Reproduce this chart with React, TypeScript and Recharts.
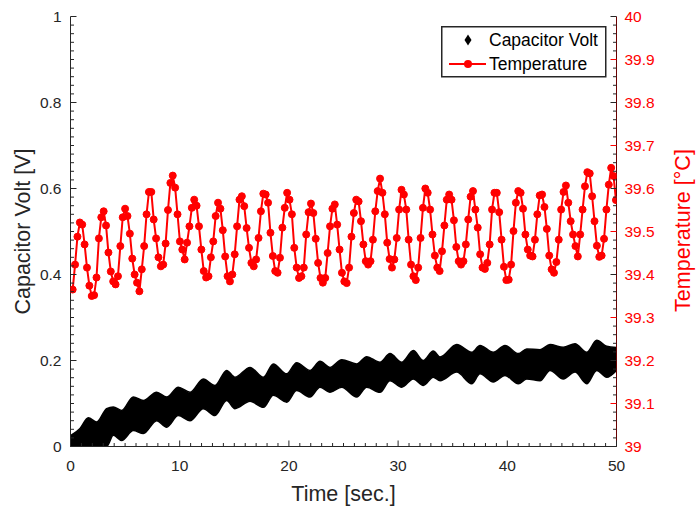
import React from 'react';
import { ComposedChart, Line, Area, XAxis, YAxis, Legend } from 'recharts';

const FONT = '"Liberation Sans", Arial, sans-serif';
const AXIS_COLOR = '#262626';
const RED = '#ff0000';

// Tick values
const TIME_TICKS = Array.from({ length: 51 }, (_, i) => i); // minor every 1 s, major every 10 s
const VOLT_TICKS = Array.from({ length: 51 }, (_, i) => +(i * 0.02).toFixed(2)); // minor 0.02, major 0.2
const TEMP_TICKS = Array.from({ length: 51 }, (_, i) => +(39 + i * 0.02).toFixed(2)); // minor 0.02, major 0.1
const TIME_LABELS = [0, 10, 20, 30, 40, 50];
const VOLT_LABELS = ['0', '0.2', '0.4', '0.6', '0.8', '1'];
const TEMP_LABELS = ['39', '39.1', '39.2', '39.3', '39.4', '39.5', '39.6', '39.7', '39.8', '39.9', '40'];

// Temperature samples (°C), sampled uniformly from TEMP_START with TEMP_STEP seconds
const TEMP_START = 0.2;
const TEMP_STEP = 0.2182;
const TEMPERATURE = [
  39.365, 39.423, 39.488, 39.521, 39.516, 39.47, 39.416, 39.374, 39.35, 39.352,
  39.393, 39.484, 39.533, 39.547, 39.514, 39.451, 39.407, 39.384, 39.377, 39.396,
  39.466, 39.533, 39.553, 39.536, 39.495, 39.437, 39.4, 39.381, 39.361, 39.412,
  39.466, 39.54, 39.592, 39.592, 39.528, 39.484, 39.44, 39.419, 39.423, 39.472,
  39.55, 39.613, 39.63, 39.602, 39.54, 39.477, 39.458, 39.435, 39.474, 39.512,
  39.555, 39.574, 39.56, 39.512, 39.458, 39.408, 39.393, 39.396, 39.44, 39.477,
  39.536, 39.567, 39.553, 39.503, 39.442, 39.396, 39.384, 39.4, 39.447, 39.512,
  39.574, 39.582, 39.559, 39.508, 39.462, 39.427, 39.419, 39.435, 39.485, 39.547,
  39.588, 39.586, 39.567, 39.497, 39.443, 39.408, 39.404, 39.439, 39.509, 39.555,
  39.59, 39.574, 39.54, 39.462, 39.416, 39.392, 39.396, 39.416, 39.493, 39.545,
  39.565, 39.543, 39.483, 39.427, 39.392, 39.381, 39.392, 39.45, 39.512, 39.553,
  39.563, 39.516, 39.458, 39.404, 39.384, 39.38, 39.416, 39.488, 39.543, 39.574,
  39.57, 39.524, 39.47, 39.431, 39.423, 39.431, 39.481, 39.547, 39.594, 39.623,
  39.59, 39.54, 39.474, 39.436, 39.416, 39.435, 39.485, 39.551, 39.597, 39.586,
  39.551, 39.481, 39.423, 39.396, 39.387, 39.416, 39.485, 39.555, 39.6, 39.59,
  39.551, 39.493, 39.444, 39.416, 39.408, 39.454, 39.514, 39.574, 39.586, 39.574,
  39.526, 39.464, 39.431, 39.423, 39.431, 39.47, 39.528, 39.581, 39.594, 39.551,
  39.509, 39.447, 39.416, 39.413, 39.427, 39.47, 39.551, 39.59, 39.59, 39.545,
  39.481, 39.418, 39.387, 39.388, 39.423, 39.501, 39.567, 39.594, 39.59, 39.553,
  39.493, 39.458, 39.444, 39.442, 39.481, 39.54, 39.584, 39.586, 39.557, 39.506,
  39.444, 39.412, 39.404, 39.429, 39.481, 39.551, 39.592, 39.607, 39.567, 39.524,
  39.493, 39.466, 39.442, 39.493, 39.551, 39.605, 39.638, 39.635, 39.582, 39.524,
  39.467, 39.441, 39.444, 39.483, 39.551, 39.609, 39.648, 39.629, 39.573,
];

// Capacitor voltage envelope (V): dense oscillation drawn as a band
const BAND_TIME = [
  0, 0.87, 1.63, 2.4, 3.31, 3.92, 4.69, 5.75, 6.67, 7.89,
  8.81, 9.87, 10.94, 12.16, 13.23, 14.3, 15.06, 16.44, 17.66, 18.57,
  19.8, 20.71, 21.93, 22.85, 23.76, 24.84, 26.21, 27.12, 28.34, 29.26,
  30.33, 31.39, 32.31, 33.22, 33.84, 35.37, 36.74, 37.5, 38.72, 39.79,
  41.01, 41.78, 43.0, 43.91, 45.13, 46.2, 47.27, 48.19, 49.1, 50,
];
const BAND_LOW = [
  0, 0, 0, 0, 0, 0.026, 0.014, 0.037, 0.03, 0.06,
  0.045, 0.072, 0.06, 0.088, 0.072, 0.107, 0.088, 0.105, 0.091, 0.119,
  0.103, 0.13, 0.115, 0.138, 0.126, 0.138, 0.115, 0.138, 0.126, 0.153,
  0.138, 0.157, 0.142, 0.161, 0.153, 0.173, 0.146, 0.169, 0.15, 0.165,
  0.146, 0.157, 0.153, 0.177, 0.157, 0.173, 0.146, 0.177, 0.161, 0.177,
];
const BAND_HIGH = [
  0.025, 0.042, 0.067, 0.057, 0.088, 0.092, 0.084, 0.115, 0.107, 0.126,
  0.115, 0.138, 0.126, 0.157, 0.142, 0.177, 0.161, 0.184, 0.161, 0.192,
  0.169, 0.195, 0.177, 0.198, 0.184, 0.202, 0.192, 0.209, 0.196, 0.216,
  0.196, 0.223, 0.2, 0.222, 0.208, 0.237, 0.219, 0.235, 0.219, 0.235,
  0.216, 0.227, 0.225, 0.237, 0.231, 0.239, 0.219, 0.247, 0.233, 0.23,
];

type Row = { t: number; temp?: number; band?: [number, number] };
const rows: Row[] = [
  ...TEMPERATURE.map((v, i) => ({ t: +(TEMP_START + i * TEMP_STEP).toFixed(4), temp: v })),
  ...BAND_TIME.map((t, i) => ({ t, band: [BAND_LOW[i], BAND_HIGH[i]] as [number, number] })),
].sort((a, b) => a.t - b.t);

const near = (a: number, b: number) => Math.abs(a - b) < 1e-6;

const BottomTick = (p: any) => {
  const { x, y, payload } = p;
  const v = payload.value as number;
  const idx = TIME_LABELS.findIndex((m) => near(m, v));
  const major = idx >= 0;
  return (
    <g>
      <line x1={x} x2={x} y1={y} y2={y - (major ? 6 : 3.5)} stroke={AXIS_COLOR} strokeWidth={1} />
      {major && (
        <text x={x} y={y + 24} textAnchor="middle" fontSize={15.5} fill={AXIS_COLOR} fontFamily={FONT}>
          {TIME_LABELS[idx]}
        </text>
      )}
    </g>
  );
};

const TopTick = (p: any) => {
  const { x, y, payload } = p;
  const v = payload.value as number;
  const major = TIME_LABELS.some((m) => near(m, v));
  return <line x1={x} x2={x} y1={y} y2={y + (major ? 6 : 3.5)} stroke={AXIS_COLOR} strokeWidth={1} />;
};

const LeftTick = (p: any) => {
  const { x, y, payload } = p;
  const v = payload.value as number;
  const idx = VOLT_LABELS.findIndex((m) => near(+m, v));
  const major = idx >= 0;
  return (
    <g>
      <line x1={x} x2={x + (major ? 6 : 3.5)} y1={y} y2={y} stroke={AXIS_COLOR} strokeWidth={1} />
      {major && (
        <text x={x - 9} y={y} dy="0.35em" textAnchor="end" fontSize={15.5} fill={AXIS_COLOR} fontFamily={FONT}>
          {VOLT_LABELS[idx]}
        </text>
      )}
    </g>
  );
};

const RightTick = (p: any) => {
  const { x, y, payload } = p;
  const v = payload.value as number;
  const idx = TEMP_LABELS.findIndex((m) => near(+m, v));
  const leftMajor = near((v - 39) * 5, Math.round((v - 39) * 5));
  const major = idx >= 0;
  return (
    <g>
      <line x1={x} x2={x - (leftMajor ? 6 : 3.5)} y1={y} y2={y} stroke={AXIS_COLOR} strokeWidth={1} />
      {major && !leftMajor && <line x1={x} x2={x - 6} y1={y} y2={y} stroke={RED} strokeWidth={1} />}
      {major && (
        <text x={x + 8} y={y} dy="0.35em" textAnchor="start" fontSize={15.5} fill={RED} fontFamily={FONT}>
          {TEMP_LABELS[idx]}
        </text>
      )}
    </g>
  );
};

const LeftTitle = (p: any) => {
  const vb = p.viewBox;
  const cx = vb.x + 22;
  const cy = vb.y + vb.height / 2;
  return (
    <text x={cx} y={cy} transform={`rotate(-90 ${cx} ${cy})`} textAnchor="middle" dy="0.35em"
      fontSize={21.5} fill={AXIS_COLOR} fontFamily={FONT}>
      Capacitor Volt [V]
    </text>
  );
};

const RightTitle = (p: any) => {
  const vb = p.viewBox;
  const cx = vb.x + 66;
  const cy = vb.y + vb.height / 2 - 1;
  return (
    <text x={cx} y={cy} transform={`rotate(-90 ${cx} ${cy})`} textAnchor="middle" dy="0.35em"
      fontSize={21.5} fill={RED} fontFamily={FONT}>
      Temperature [°C]
    </text>
  );
};

const BottomTitle = (p: any) => {
  const vb = p.viewBox;
  const cx = vb.x + vb.width / 2;
  const cy = vb.y + 47;
  return (
    <text x={cx} y={cy} textAnchor="middle" dy="0.35em" fontSize={21.5} fill={AXIS_COLOR} fontFamily={FONT}>
      Time [sec.]
    </text>
  );
};

const LegendBox = () => (
  <svg width={166} height={52} style={{ display: 'block' }}>
    <rect x={0.75} y={0.75} width={164} height={50} fill="#fff" stroke={AXIS_COLOR} strokeWidth={1.5} />
    <path d="M27 8.5 L30.5 14 L27 19.5 L23.5 14 Z" fill="#000" />
    <text x={48} y={14} dy="0.35em" fontSize={17.5} fill="#000" fontFamily={FONT}>Capacitor Volt</text>
    <line x1={8} x2={45} y1={38} y2={38} stroke={RED} strokeWidth={2} />
    <circle cx={27} cy={38} r={4} fill={RED} />
    <text x={48} y={38} dy="0.35em" fontSize={17.5} fill="#000" fontFamily={FONT}>Temperature</text>
  </svg>
);

export default function App() {
  return (
    <div style={{ position: 'absolute', left: 0, top: 0, width: 697, height: 510, background: '#fff' }}>
      <ComposedChart width={697} height={510} data={rows} margin={{ top: 16.5, right: 0, bottom: 0, left: 0 }}>
        <XAxis
          dataKey="t" type="number" domain={[0, 50]} allowDataOverflow ticks={TIME_TICKS} interval={0}
          height={63.5} tickSize={0} tickMargin={0} tickLine={false} tick={<BottomTick />}
          axisLine={{ stroke: AXIS_COLOR, strokeWidth: 1 }} label={<BottomTitle />}
        />
        <XAxis
          xAxisId="top" orientation="top" dataKey="t" type="number" domain={[0, 50]} allowDataOverflow
          ticks={TIME_TICKS} interval={0} height={0} tickSize={0} tickMargin={0} tickLine={false}
          tick={<TopTick />} axisLine={{ stroke: AXIS_COLOR, strokeWidth: 1 }}
        />
        <YAxis
          yAxisId="left" type="number" domain={[0, 1]} allowDataOverflow ticks={VOLT_TICKS} interval={0}
          width={70.5} tickSize={0} tickMargin={0} tickLine={false} tick={<LeftTick />}
          axisLine={{ stroke: AXIS_COLOR, strokeWidth: 1 }} label={<LeftTitle />}
        />
        <YAxis
          yAxisId="right" orientation="right" type="number" domain={[39, 40]} allowDataOverflow
          ticks={TEMP_TICKS} interval={0} width={80.5} tickSize={0} tickMargin={0} tickLine={false}
          tick={<RightTick />} axisLine={{ stroke: '#6a0000', strokeWidth: 1 }} label={<RightTitle />}
        />
        <Area
          yAxisId="left" dataKey="band" type="monotone" stroke="#000" strokeWidth={1.5} fill="#000"
          fillOpacity={1} connectNulls isAnimationActive={false} activeDot={false} dot={false}
        />
        <Line
          yAxisId="right" dataKey="temp" type="linear" stroke={RED} strokeWidth={2}
          dot={{ r: 3.5, fill: RED, stroke: RED, strokeWidth: 1 }} activeDot={false}
          connectNulls isAnimationActive={false}
        />
        <Legend
          layout="vertical" align="center" verticalAlign="middle"
          wrapperStyle={{ position: 'absolute', left: 441, top: 26, width: 166, height: 52 }}
          content={() => <LegendBox />}
        />
      </ComposedChart>
    </div>
  );
}
